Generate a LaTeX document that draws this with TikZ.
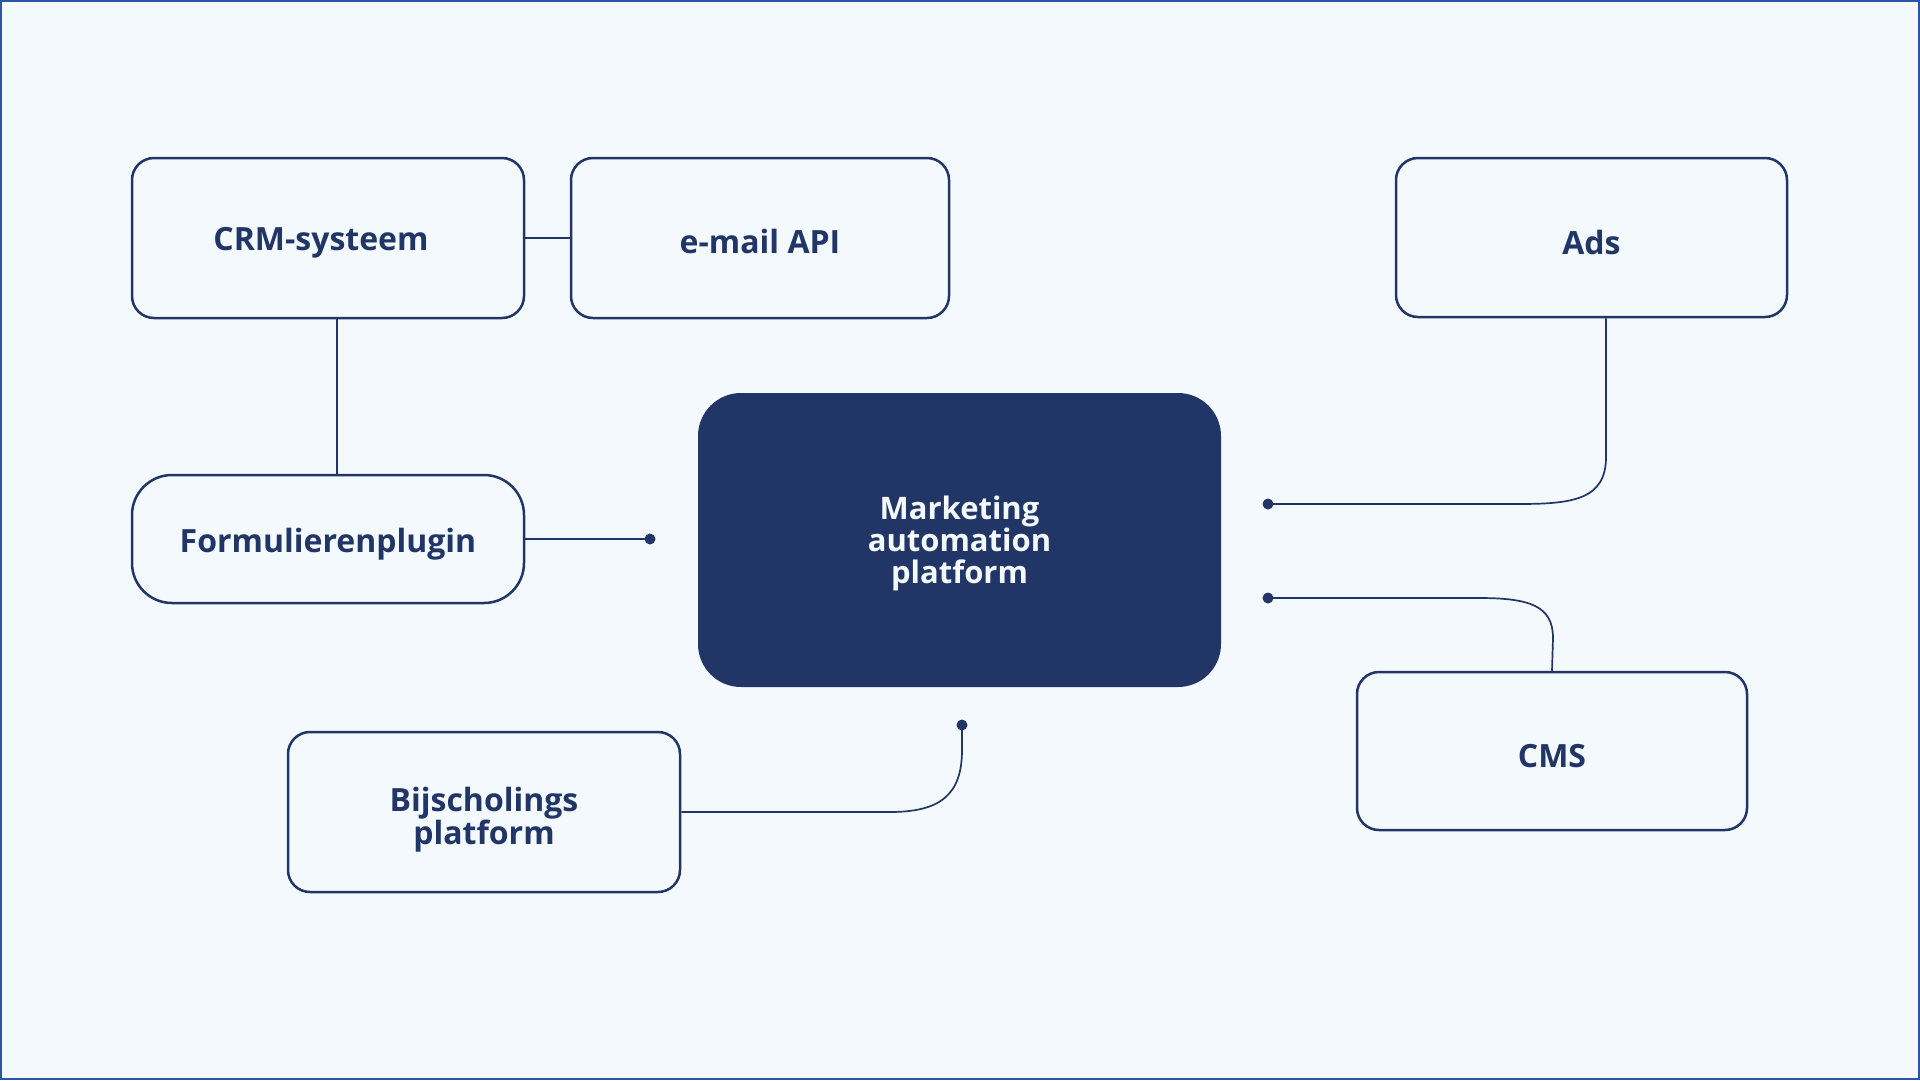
\documentclass[tikz,border=0pt]{standalone}
\usepackage{fontspec}
\setmainfont{Open Sans}
\definecolor{navy}{HTML}{213667}
\definecolor{bgc}{HTML}{F4F9FD}
\definecolor{frame}{HTML}{2C55A8}
\begin{document}
\begin{tikzpicture}[x=1pt,y=-1pt,
  box/.style={draw=navy, line width=2.5pt, rounded corners=22pt, fill=bgc,
    text=navy, font=\fontsize{32}{32}\selectfont\bfseries, align=center, inner sep=0pt, text depth=0pt},
  hub/.style={fill=navy, rounded corners=43pt, text=bgc,
    font=\fontsize{31}{32}\selectfont\bfseries, align=center, inner sep=0pt, text depth=0pt},
  link/.style={draw=navy, line width=1.7pt},
  dot/.style={fill=navy}]
\fill[bgc] (0,0) rectangle (1920,1080);
\draw[frame, line width=2pt] (1,1) rectangle (1919,1079);
\useasboundingbox (0,0) rectangle (1920,1080);

\node[box, text height=25.2pt, minimum width=392pt, minimum height=160pt] (crm) at (328,238) {\hspace*{-14pt}CRM-systeem};
\node[box, text height=31.7pt, minimum width=378pt, minimum height=160pt] (email) at (760,238) {e-mail API};
\node[box, text height=34.3pt, minimum width=391pt, minimum height=159pt] (ads) at (1591.5,237.5) {Ads};
\node[box, text height=26.7pt, rounded corners=40pt, minimum width=392pt, minimum height=128pt] (form) at (328,539) {Formulierenplugin};
\node[hub, minimum width=523pt, minimum height=294pt] (hub) at (959.5,540) {Marketing\\automation\\platform};
\node[box, text height=65pt, minimum width=392pt, minimum height=160pt] (bij) at (484,812) {Bijscholings\\platform};
\node[box, text height=32.8pt, minimum width=390pt, minimum height=158pt] (cms) at (1552,751) {CMS};

\coordinate (dform) at (650,539);
\coordinate (dads) at (1268,504);
\coordinate (dcms) at (1268,598);
\coordinate (dbij) at (962,725);

\draw[link] (crm.east) -- (email.west);
\draw[link] ([xshift=9pt]crm.south) -- ([xshift=9pt]form.north);
\draw[link] (form.east) -- (dform);
\draw[link] ([xshift=14.5pt]ads.south) -- (1606,457) .. controls (1606,500) and (1572,504) .. (1518,504) -- (dads);
\draw[link] (cms.north) -- (1553,638) .. controls (1553,606) and (1530,598) .. (1479,598) -- (dcms);
\draw[link] (bij.east) -- (890,812) .. controls (940,812) and (962,795) .. (962,750) -- (dbij);

\foreach \d in {dform,dads,dcms,dbij} \fill[dot] (\d) circle (5.5pt);
\end{tikzpicture}
\end{document}
